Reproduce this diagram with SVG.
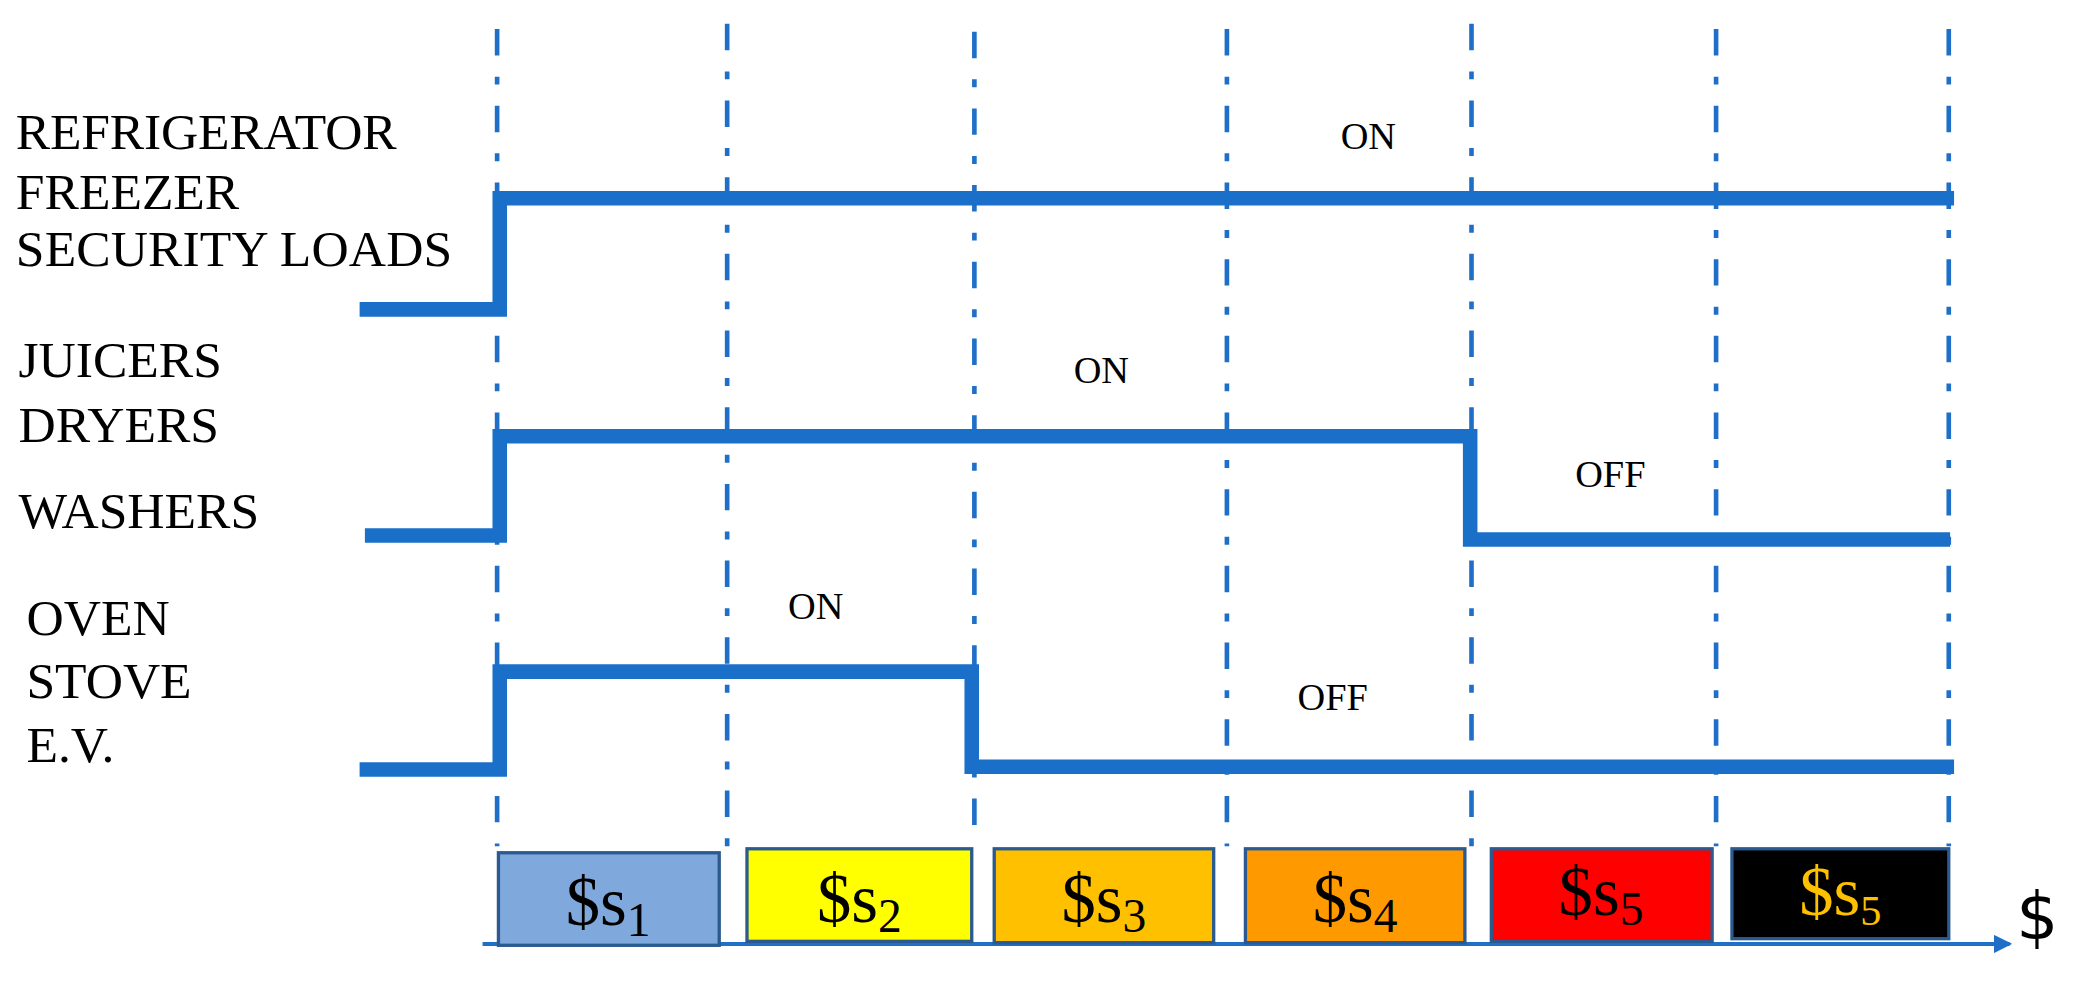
<svg xmlns="http://www.w3.org/2000/svg" width="2073" height="982" viewBox="0 0 2073 982">
<style>
.lbl{font-family:'Liberation Serif','Times New Roman',serif;font-size:39px;fill:#000}
.st{font-family:'Liberation Serif','Times New Roman',serif;font-size:29px;fill:#000}
.grid{stroke:#1F6FC8;stroke-width:3.5;stroke-dasharray:20 16 6 16;fill:none}
.sig{stroke:#1A6FC9;stroke-width:11;fill:none;stroke-linejoin:miter}
.box{stroke:#2A5A8F;stroke-width:2.5}
.bt{font-family:'Liberation Serif','Times New Roman',serif;font-size:52px;text-anchor:middle}
</style>
<defs><marker id="ah" markerWidth="14" markerHeight="14" refX="12" refY="7" orient="auto" markerUnits="userSpaceOnUse"><path d="M0,0 L14,7 L0,14 Z" fill="#1F6FC8"/></marker></defs>
<rect width="2073" height="982" fill="#fff"/>
<g transform="scale(1.3221)">
<g id="grid">
<line class="grid" x1="376" y1="22" x2="376" y2="640"/>
<line class="grid" x1="550" y1="18" x2="550" y2="640"/>
<line class="grid" x1="737" y1="24" x2="737" y2="640"/>
<line class="grid" x1="928" y1="22" x2="928" y2="640"/>
<line class="grid" x1="1113" y1="18" x2="1113" y2="640"/>
<line class="grid" x1="1298" y1="22" x2="1298" y2="640"/>
<line class="grid" x1="1474" y1="22" x2="1474" y2="640"/>
</g>
<g id="connectors">
<polyline class="sig" points="272,234 378,234 378,150 1478,150"/>
<polyline class="sig" points="276,405 378,405 378,330 1112,330 1112,408 1475,408"/>
<polyline class="sig" points="272,582 378,582 378,508 735,508 735,580 1478,580"/>
<line x1="365" y1="714" x2="1520" y2="714" stroke="#1F6FC8" stroke-width="3" marker-end="url(#ah)"/>
</g>
<g id="labels">
<text class="lbl" x="12" y="113" textLength="288">REFRIGERATOR</text>
<text class="lbl" x="12" y="158">FREEZER</text>
<text class="lbl" x="12" y="201" textLength="330">SECURITY LOADS</text>
<text class="lbl" x="14" y="285">JUICERS</text>
<text class="lbl" x="14" y="334">DRYERS</text>
<text class="lbl" x="14" y="399">WASHERS</text>
<text class="lbl" x="20" y="480">OVEN</text>
<text class="lbl" x="20" y="528">STOVE</text>
<text class="lbl" x="20" y="576">E.V.</text>
<text class="st" x="1035" y="113" text-anchor="middle">ON</text>
<text class="st" x="833" y="290" text-anchor="middle">ON</text>
<text class="st" x="617" y="468" text-anchor="middle">ON</text>
<text class="st" x="1218" y="368" text-anchor="middle">OFF</text>
<text class="st" x="1008" y="537" text-anchor="middle">OFF</text>
</g>
<g id="s1"><rect class="box" x="377" y="645" width="167" height="70" fill="#7FA8DC"/><text class="bt" x="460" y="700">$s<tspan font-size="36" dy="8">1</tspan></text></g>
<g id="s2"><rect class="box" x="565" y="642" width="170" height="70" fill="#FFFF00"/><text class="bt" x="650" y="697">$s<tspan font-size="36" dy="8">2</tspan></text></g>
<g id="s3"><rect class="box" x="752" y="642" width="166" height="71" fill="#FFC000"/><text class="bt" x="835" y="697">$s<tspan font-size="36" dy="8">3</tspan></text></g>
<g id="s4"><rect class="box" x="942" y="642" width="166" height="71" fill="#FF9900"/><text class="bt" x="1025" y="697">$s<tspan font-size="36" dy="8">4</tspan></text></g>
<g id="s5"><rect class="box" x="1128" y="642" width="167" height="70" fill="#FF0000"/><text class="bt" x="1211" y="692">$s<tspan font-size="36" dy="8">5</tspan></text></g>
<g id="s6"><rect class="box" x="1310" y="642" width="164" height="68" fill="#000"/><text class="bt" x="1392" y="692" fill="#FFC000" font-size="44">$s<tspan font-size="32" dy="8">5</tspan></text></g>
<text x="1541" y="710" font-family="'DejaVu Sans',sans-serif" font-size="50" text-anchor="middle">$</text>
</g>
</svg>
